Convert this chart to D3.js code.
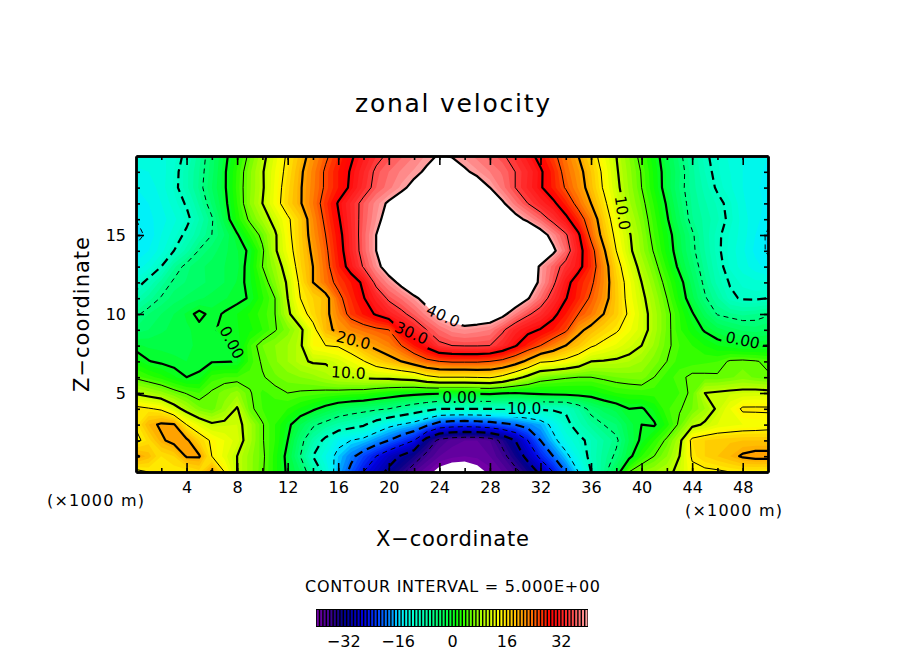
<!DOCTYPE html>
<html>
<head>
<meta charset="utf-8">
<script src="https://d3js.org/d3.v7.min.js"></script>
<style>
  body { margin: 0; background: #fff; }
  text { font-family: "DejaVu Sans", sans-serif; fill: #000; }
</style>
</head>
<body>
<script>
// grid nodes, x and z every 1 km (rows listed top to bottom)
let xNodes = d3.range(0, 51, 1);
let zNodes = d3.range(20, -1, -1);

let u20 = [-12.5,-12.5,-12.3,-11.5,-9.2,-6.4,-3.6,-0.8,2.3,5.7,9,12.3,15.6,18.5,21.5,24.4,27,29.5,31.7,34,35.6,36.8,38,39.2,40.3,39.8,38.7,37.6,36.5,35.4,33.6,31.4,28.8,25.9,23,20,16.7,13.3,10,7,4,1.2,-1.7,-4.4,-7,-9.5,-11,-12.3,-13,-13.6,-14];
let u19 = [-13.2,-13,-12.6,-11,-8.3,-6,-3.4,-0.4,3.2,6.7,9.7,13,16,19.4,22.4,25.5,28,30.3,32.9,35.6,37,38.2,39.2,40.5,42,42,40.5,39.2,38,36.8,35,33,30.5,27.4,23.8,21.2,18,14.2,10.4,7.5,4.8,1.7,-1.2,-3.9,-6.6,-9,-10.8,-12,-13,-13.7,-14.2];
let u18 = [-14,-13.7,-12.5,-10.8,-8.3,-5.8,-3,-0.4,3.4,6.8,9.6,13.3,16.6,19.7,22.6,25.5,28,30.6,33.5,36,37.6,39.3,41,43,44,44,43.5,42,40,37.5,35,32.8,30.4,27.6,24.7,21.8,18.5,14.6,10.8,7.8,5,1.9,-1.2,-4.1,-6.5,-8.4,-10.4,-11.8,-13,-13.8,-14.4];
let u17 = [-14.7,-14,-13,-11.5,-9.7,-6.8,-3.8,-0.8,3,7,10,13.5,17,19.7,23,26.5,30.3,33.2,36,38.5,40.5,42,43,44,44.5,44.5,44.5,43.5,42,40.5,37.5,35,32.8,30.8,27.5,23.7,20,16,11.7,8.3,5.8,2.8,-0.3,-3.5,-6.2,-7.8,-9.2,-10.8,-12.8,-13.7,-14.2];
let u16 = [-15,-14.3,-13.5,-12.3,-10.8,-8,-5.3,-1.5,2.3,5.5,8.3,11.2,14.4,17.5,22,25.8,29.6,33,36.2,39,41.5,43.5,45,45.5,46,46,46,46,46,45,41.4,39.1,36.8,34,31,27,22.7,17.3,13,9.4,6.5,3.5,0.3,-2.8,-5.9,-7.3,-8.8,-10.6,-12.5,-13.7,-14.5];
let u15 = [-15.3,-14.8,-13,-11.5,-9.3,-7,-5,-3,-0.3,3,5.7,9.5,14,17.5,21.5,25,28.8,32.7,36.5,40,43,46,46,46,46,46,46,46,46,46,46,45,41.8,38.6,35.5,30.6,24,18.5,14,10.4,7.2,4,1.2,-1.8,-4.6,-7.3,-9.5,-11.2,-12.5,-14,-15.3];
let u14 = [-14.8,-14,-12.5,-10,-7.5,-4.8,-3.5,-2.3,-1.1,0.4,4.5,9.5,13.4,17.2,20.7,24.3,28.3,32.5,36.4,40,43.5,46,46,46,46,46,46,46,46,46,46,46,44,40.8,36.9,31.7,26.6,20.6,15,10.8,7.6,4.7,1.6,-1.5,-4.4,-7,-9.5,-11.4,-12.8,-14.3,-15.2];
let u13 = [-13.6,-12.5,-10,-6.3,-4.3,-3.3,-2.6,-2,-1.3,0.9,5,7.8,11.9,16.8,20,23.8,27.7,31.5,35.3,38.8,42,45,46,46,46,46,46,46,46,46,46,43,39.5,36.5,33.8,31.3,27,22,16.6,12.3,8.8,5.9,2.7,-0.7,-3.5,-6.4,-9,-11.2,-12.5,-13.6,-14.5];
let u12 = [-11.5,-9,-6.5,-4.6,-3.9,-3.3,-2.7,-2,-0.9,0.7,3.5,6.8,10.5,15.8,20,23.3,26,28,30.7,36,38.5,41,44,46,46,46,46,46,46,46,45,42.5,39.3,35.7,31.4,27.8,25.7,22,17.5,13.5,10,7,4,1,-2.5,-5.6,-8.4,-10.2,-11.3,-11.7,-11.8];
let u11 = [-8.3,-6.5,-4.8,-3.5,-2.8,-2.2,-1.6,-1.1,-0.6,0.2,2.8,5,10,15,17,18.5,24,27,29.8,32.5,35.6,37.2,39.2,41.5,44,45,45.5,45.5,45,44,43,40.3,37,33.5,30.2,27.3,24.5,21.5,17.7,13.8,10.8,8,5,1.7,-1.6,-4.7,-6.8,-9.5,-10.3,-10.4,-10];
let u10 = [-5.5,-4,-3,-2,-0.8,0.6,-0.6,0.2,1,2.2,3.5,5,9.2,13.3,16.5,19,22.5,26.2,28.2,30.4,32.3,34.2,36.2,38.5,41,42,43,43,42.5,41,38,35.5,33.5,31,28,25,23,20,17.5,14.5,11.4,8.6,5.8,3,0.3,-2.5,-5.2,-5.8,-6.3,-6,-5.3];
let u9 = [-3.7,-3,-2.2,-1.7,-1.2,-0.6,-0.3,0.5,0.9,1.7,3,4.8,6.5,9.2,13.7,18.8,21,22.3,23.4,24.3,25,30,32.5,35,37,38.5,39,38.5,38,35.5,32.7,31,29.8,28,25.7,21,18.8,17,15.5,13.3,11.4,8.6,5.8,3.2,1.5,-0.3,-1.5,-2.5,-3.2,-3.5,-3];
let u8 = [-0.8,-1.2,-1.3,-1.3,-1.1,-0.9,-0.6,-0.3,0,3.8,6,7,8,9.5,14,15,15.3,17,19.5,21,22.5,25,28,31,34.3,35,35.2,35.2,35,33,30.3,27.5,25,22.5,20,18,15.5,14,12.7,11.3,10,7.8,5.5,4,3,2,1,0.4,-0.2,-0.2,0];
let u7 = [1.5,0.1,-0.4,-0.8,-1,-0.9,-0.2,-0.1,0,3.5,5.3,6.8,8,9.5,10.3,10.3,11.5,13,14.8,17,18.5,20,22,24,25,25.5,25.5,25.5,25,24,22,19,15.5,15,14,12.5,10,9.8,9.5,9,8,6.5,5,3.5,3.5,3.8,4,5.3,5.5,5.2,4.5];
let u6 = [4.5,3.5,2.5,1.2,0,0.5,3.5,4,4,4.4,4.8,5.8,6.5,7,7.5,8.5,9.5,10,10.5,10.8,11,11.5,12,14,15,15,15,15.2,15.5,14,11.5,9,6.5,5.8,5.3,5,5,5.5,6,6.3,6.5,5,3.5,4.5,5.5,5.4,5.3,5.8,6.5,5.8,5.3];
let u5 = [9.5,8.5,7.5,6,4.8,4,5.3,6.5,7.5,5.2,3.8,4.3,5,4.7,4.5,4.2,4,3.7,3.5,2.7,2,1.4,1,0.7,0.5,0.5,0.5,0.6,0.7,0.3,0,0.4,0.7,1,1.2,1.3,1.3,2.2,3,3.3,3.5,3.5,3.5,4,5.5,10,10.4,10.8,11,11.2,11];
let u4 = [16,15.3,14.5,11.5,8.7,6.3,5.5,7.5,10.3,5.5,4,3.5,3,1.8,0.5,-1,-2.5,-3.2,-3.8,-4.4,-5,-6.3,-7.5,-8.8,-10,-10,-10,-10,-10,-10,-10,-9.8,-9.5,-9.5,-9.5,-7,-4,-2.5,-1.5,0,-0.3,1.3,3.8,4.8,6,8,10.5,13,15.5,15.5,15.5];
let u3 = [15.5,19,20.5,20.3,15,12.5,10.5,10.8,11,8.5,5.2,3,0.7,-2,-4.5,-6,-7.5,-8.5,-9.5,-12,-14,-15.2,-16.5,-19,-22,-22.8,-23,-22.7,-22,-21,-20,-18.5,-17,-14,-11,-8.5,-6.5,-5,-4,-1.5,0,-0.3,2.5,5.5,9,10.5,12,12.5,13,13.2,13.5];
let u2 = [14,16.5,19.5,21,20.6,17,14.5,13,11.5,8.5,5.2,3,0,-4,-7.5,-11,-14,-15,-16,-18,-20,-22.5,-25,-32,-36,-37.5,-38,-38,-37,-34,-30,-25,-20,-16,-13,-11,-9,-7,-5.5,-2,0.5,3,5.5,9,16,17,17.5,17.8,18,18,18];
let u1 = [20.5,18.5,16,17,20.3,20.3,15,12.5,10,7.5,5.5,2.5,-0.8,-5,-10,-13,-16,-19,-22,-25,-28,-30.5,-33,-36,-38,-38.7,-39,-38.7,-38,-36,-33,-28.5,-24,-20,-16,-12.5,-9,-6.5,-4.5,-1,3,5,7,10,15.5,17,18,19,20.4,21,21];
let u0 = [14,15,15.5,15.3,15.2,16.5,20.5,15,10,7.5,5.3,2.5,-0.5,-3,-7,-11.5,-17,-21,-25,-28,-31,-34,-37,-39,-41,-42,-42,-41,-39.5,-38,-36,-33,-29,-25,-20,-15,-10,-6,-2,5,7,8,9,11,14,14.3,14.5,15,15.3,15.2,15];
let field = [u20,u19,u18,u17,u16,u15,u14,u13,u12,u11,u10,u9,u8,u7,u6,u5,u4,u3,u2,u1,u0];

let xMajor = d3.range(4, 49, 4);
let xMinor = d3.range(2, 50, 2);
let zMajor = [5, 10, 15];
let zMinor = d3.range(1, 20, 1);
let barTicks = [-32, -16, 0, 16, 32];

// contour labels: text, x (km), z (km), rotation
let labelText = ['0.00', '10.0', '20.0', '30.0', '40.0', '0.00', '\u221210.0', '10.0', '0.00'];
let labelX = [7.6, 16.8, 17.2, 21.8, 24.3, 25.6, 30.2, 38.5, 48];
let labelZ = [8.2, 6.3, 8.35, 8.8, 9.9, 4.75, 4.05, 16.4, 8.35];
let labelRot = [62, 3, 14, 24, 24, 0, 0, 82, 12];

let colorStops = [-40,-36,-32,-26,-22,-18,-15,-12,-8,-2,2,8,14,22,29,34,40];
let colorValues = ['#7800a8','#400090','#000088','#0000e0','#0040ff','#0090ff','#00eeff','#00ffd8','#00ffb0','#00ff50','#10ff00','#a0ff00','#ffff00','#ff8c00','#ff0000','#ff3030','#ffa8a8'];

let svg = d3.select('body').append('svg')
  .attr('width', 904)
  .attr('height', 654);

let plotLeft = 136, plotRight = 768, plotTop = 156, plotBottom = 472;
let x = d3.scaleLinear().domain([0, 50]).range([plotLeft, plotRight]);
let z = d3.scaleLinear().domain([0, 20]).range([plotBottom, plotTop]);
let color = d3.scaleLinear().domain(colorStops).range(colorValues);
let barScale = d3.scaleLinear().domain([-40, 40]).range([316, 588]);

let nx = xNodes.length, nz = zNodes.length;
let values = field.flat();

// contour coords are in cell units, node i sits at i + 0.5
let path = d3.geoPath(d3.geoTransform({
  point: function (cx, cy) {
    this.stream.point(x(cx - 0.5), z(20 - (cy - 0.5)));
  }
}));
let contours = d3.contours().size([nx, nz]).smooth(true);

let defs = svg.append('defs');
defs.append('clipPath').attr('id', 'plot-clip')
  .append('rect')
  .attr('x', plotLeft).attr('y', plotTop)
  .attr('width', plotRight - plotLeft).attr('height', plotBottom - plotTop);

// filled bands, painted low to high
let bandLevels = d3.range(-40, 41, 1);
let plot = svg.append('g').attr('clip-path', 'url(#plot-clip)');
plot.append('g').selectAll('path')
  .data(contours.thresholds(bandLevels)(values))
  .enter().append('path')
  .attr('d', path)
  .attr('fill', d => d.value >= 40 ? '#fff' : color(d.value + 0.5));

// labels knock a gap out of the lines
function labelTransform(i) {
  return `translate(${x(labelX[i])},${z(labelZ[i])}) rotate(${labelRot[i]})`;
}
let mask = defs.append('mask').attr('id', 'label-gap')
  .attr('maskUnits', 'userSpaceOnUse')
  .attr('x', 0).attr('y', 0).attr('width', 904).attr('height', 654);
mask.append('rect').attr('width', 904).attr('height', 654).attr('fill', '#fff');
mask.selectAll('rect.gap').data(labelText)
  .enter().append('rect')
  .attr('class', 'gap')
  .attr('x', d => -d.length * 4.7 - 2)
  .attr('y', -9)
  .attr('width', d => d.length * 9.4 + 4)
  .attr('height', 18)
  .attr('fill', '#000')
  .attr('transform', (d, i) => labelTransform(i));

let lineLevels = d3.range(-35, 41, 5);
plot.append('g').attr('mask', 'url(#label-gap)')
  .selectAll('path')
  .data(contours.thresholds(lineLevels)(values))
  .enter().append('path')
  .attr('d', path)
  .attr('fill', 'none')
  .attr('stroke', '#000')
  .attr('stroke-width', d => d.value % 10 === 0 ? 2.2 : 1)
  .attr('stroke-linejoin', 'round')
  .attr('stroke-dasharray', d => d.value < 0 ? (d.value % 10 === 0 ? '9,5' : '5,4') : null);

svg.append('g').selectAll('text')
  .data(labelText)
  .enter().append('text')
  .attr('transform', (d, i) => labelTransform(i))
  .attr('text-anchor', 'middle')
  .attr('dy', '0.36em')
  .style('font-size', '15.5px')
  .text(d => d);

// axes, a tick set with labels and one without on each side
function styleAxis(g) {
  g.selectAll('.domain').attr('stroke-width', 2.4);
  g.selectAll('.tick line').attr('stroke-width', 1.6);
  g.selectAll('text').style('font-size', '16px');
}
function addAxis(axis, tx, ty, ticks, size, labelled) {
  let g = svg.append('g').attr('transform', `translate(${tx},${ty})`)
    .call(axis.tickValues(ticks).tickSize(-size).tickSizeOuter(0).tickPadding(10)
      .tickFormat(labelled ? d3.format('d') : ''));
  styleAxis(g);
  return g;
}
addAxis(d3.axisBottom(x), 0, plotBottom, xMinor, 4, false);
addAxis(d3.axisBottom(x), 0, plotBottom, xMajor, 9, true);
addAxis(d3.axisTop(x), 0, plotTop, xMinor, 4, false);
addAxis(d3.axisTop(x), 0, plotTop, xMajor, 9, false);
addAxis(d3.axisLeft(z), plotLeft, 0, zMinor, 4, false);
addAxis(d3.axisLeft(z), plotLeft, 0, zMajor, 8, true);
addAxis(d3.axisRight(z), plotRight, 0, zMinor, 4, false);
addAxis(d3.axisRight(z), plotRight, 0, zMajor, 8, false);

function addText(str, px, py, size, width, rot) {
  return svg.append('text')
    .attr('transform', `translate(${px},${py}) rotate(${rot || 0})`)
    .attr('text-anchor', 'middle')
    .attr('textLength', width)
    .attr('lengthAdjust', 'spacing')
    .style('font-size', size + 'px')
    .text(str);
}
addText('zonal velocity', 452.5, 112, 25, 195);
addText('X\u2212coordinate', 452.5, 546, 21, 153);
addText('Z\u2212coordinate', 89, 314.5, 21, 155, -90);
addText('(\u00d71000 m)', 95.5, 506, 16, 97);
addText('(\u00d71000 m)', 733.5, 516, 16, 97);
addText('CONTOUR INTERVAL = 5.000E+00', 452.5, 592, 16, 295);

// colour bar, one stripe per unit
let barLevels = d3.range(-40, 40, 1);
let bar = svg.append('g');
bar.append('rect')
  .attr('x', 316).attr('y', 609).attr('width', 272).attr('height', 18)
  .attr('fill', '#000');
bar.selectAll('rect.stripe').data(barLevels)
  .enter().append('rect')
  .attr('class', 'stripe')
  .attr('x', d => barScale(d) + 0.8)
  .attr('y', 610)
  .attr('width', 2)
  .attr('height', 16)
  .attr('fill', d => color(d + 0.5));
bar.append('g').attr('transform', 'translate(0,627)')
  .call(d3.axisBottom(barScale).tickValues(barTicks).tickSize(0).tickPadding(9)
    .tickFormat(d => d < 0 ? '\u2212' + Math.abs(d) : d))
  .call(g => g.select('.domain').remove())
  .call(g => g.selectAll('text').style('font-size', '16px'));
</script>
</body>
</html>
